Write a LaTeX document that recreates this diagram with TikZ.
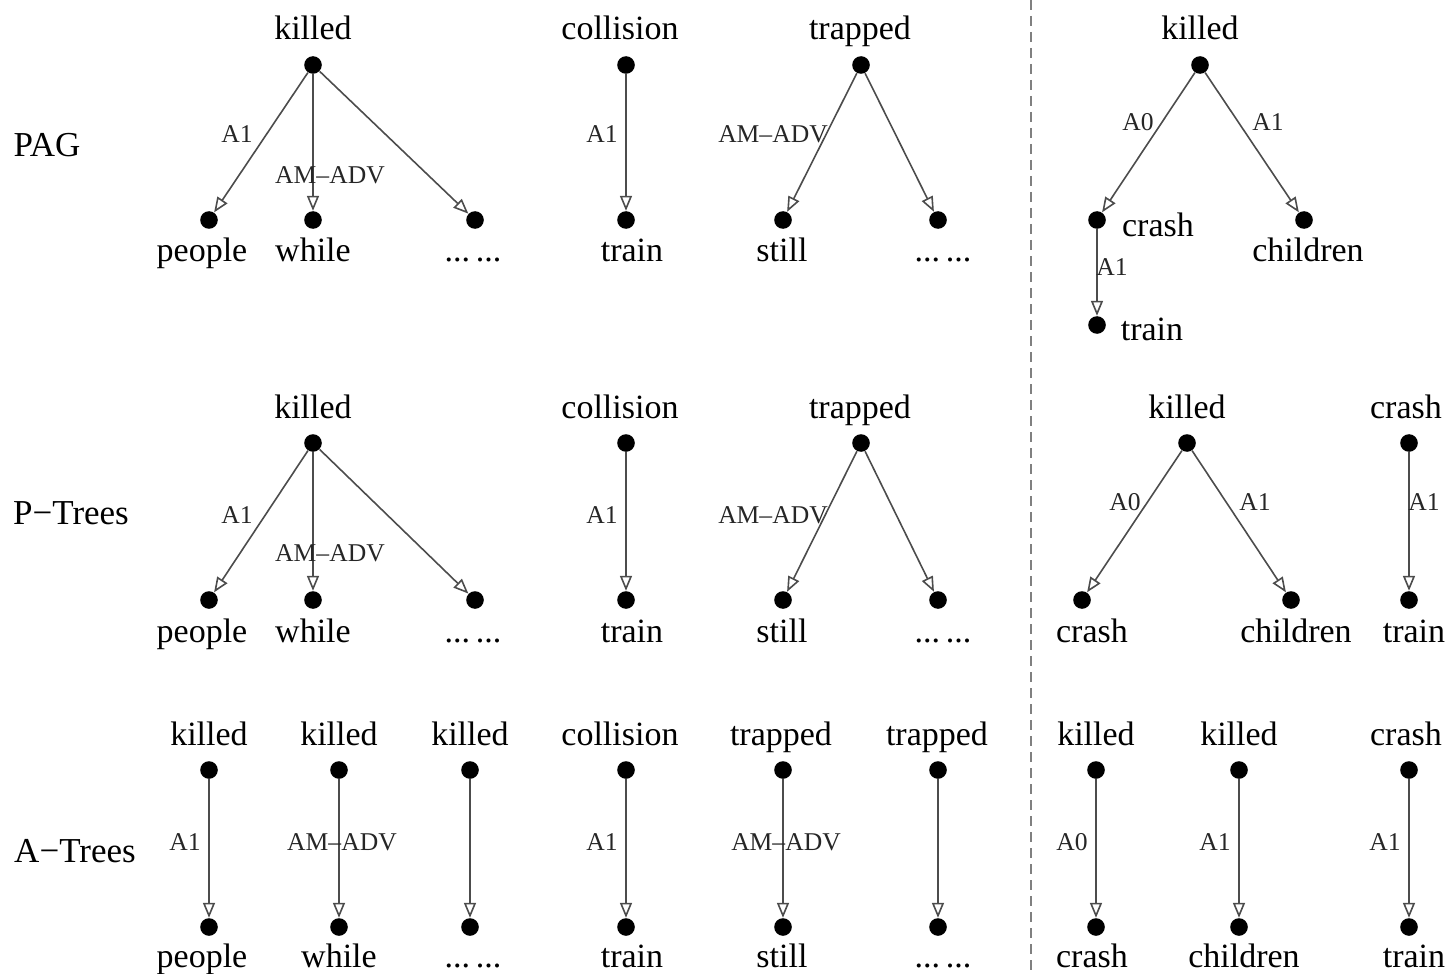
\documentclass[tikz,border=0pt]{standalone}
\usepackage{fontspec}
\setmainfont{Liberation Serif}
\usetikzlibrary{arrows.meta}
\tikzset{
  dot/.style={circle,fill=black,inner sep=0pt,minimum size=8.8pt},
  word/.style={anchor=base,inner sep=0pt,font=\fontsize{17}{20}\selectfont},
  rowtitle/.style={anchor=base,inner sep=0pt,font=\fontsize{17.5}{20}\selectfont},
  elab/.style={anchor=base,inner sep=0pt,font=\fontsize{12.8}{14}\selectfont,text=black!85},
  edge/.style={draw=black!70,line width=0.8pt,-{Triangle[open,length=7.5pt,width=6pt,fill=white]}},
}
\begin{document}
\begin{tikzpicture}[x=0.5pt,y=-0.5pt]
\useasboundingbox (0,0) rectangle (1447,974);
\draw[gray,dashed,line width=0.8pt,dash pattern=on 5pt off 3pt] (1031,0) -- (1031,974);

% row titles
\node[rowtitle] (tPAG) at (47,157) {PAG};
\node[rowtitle] (tPT) at (71,524) {P−Trees};
\node[rowtitle] (tAT) at (75,862) {A−Trees};

% ================= Row 1: PAG =================
\node[dot] (a1) at (313,65) {};
\node[word] (a1w) at (313,40) {killed};
\node[dot] (a2) at (209,220) {};
\node[word] (a2w) at (202,262) {people};
\node[dot] (a3) at (313,220) {};
\node[word] (a3w) at (313,262) {while};
\node[dot] (a4) at (475,220) {};
\node[word] (a4w) at (473,262) {...\,...};
\draw[edge] (a1) -- (a2);
\draw[edge] (a1) -- (a3);
\draw[edge] (a1) -- (a4);
\node[elab] (a12) at (237,143) {A1};
\node[elab] (a13) at (330,184) {AM–ADV};

\node[dot] (b1) at (626,65) {};
\node[word] (b1w) at (620,40) {collision};
\node[dot] (b2) at (626,220) {};
\node[word] (b2w) at (632,262) {train};
\draw[edge] (b1) -- (b2);
\node[elab] (b12) at (602,143) {A1};

\node[dot] (c1) at (861,65) {};
\node[word] (c1w) at (860,40) {trapped};
\node[dot] (c2) at (783,220) {};
\node[word] (c2w) at (782,262) {still};
\node[dot] (c3) at (938,220) {};
\node[word] (c3w) at (943,262) {...\,...};
\draw[edge] (c1) -- (c2);
\draw[edge] (c1) -- (c3);
\node[elab] (c12) at (773,143) {AM–ADV};

\node[dot] (d1) at (1200,65) {};
\node[word] (d1w) at (1200,40) {killed};
\node[dot] (d2) at (1097,220) {};
\node[word] (d2w) at (1158,236) {crash};
\node[dot] (d3) at (1304,220) {};
\node[word] (d3w) at (1308,262) {children};
\node[dot] (d4) at (1097,325) {};
\node[word] (d4w) at (1152,340) {train};
\draw[edge] (d1) -- (d2);
\draw[edge] (d1) -- (d3);
\draw[edge] (d2) -- (d4);
\node[elab] (d12) at (1138,131) {A0};
\node[elab] (d13) at (1268,131) {A1};
\node[elab] (d24) at (1112,275) {A1};

% ================= Row 2: P-Trees =================
\node[dot] (e1) at (313,443) {};
\node[word] (e1w) at (313,418) {killed};
\node[dot] (e2) at (209,600) {};
\node[word] (e2w) at (202,642) {people};
\node[dot] (e3) at (313,600) {};
\node[word] (e3w) at (313,642) {while};
\node[dot] (e4) at (475,600) {};
\node[word] (e4w) at (473,642) {...\,...};
\draw[edge] (e1) -- (e2);
\draw[edge] (e1) -- (e3);
\draw[edge] (e1) -- (e4);
\node[elab] (e12) at (237,523) {A1};
\node[elab] (e13) at (330,561) {AM–ADV};

\node[dot] (f1) at (626,443) {};
\node[word] (f1w) at (620,418) {collision};
\node[dot] (f2) at (626,600) {};
\node[word] (f2w) at (632,642) {train};
\draw[edge] (f1) -- (f2);
\node[elab] (f12) at (602,523) {A1};

\node[dot] (g1) at (861,443) {};
\node[word] (g1w) at (860,418) {trapped};
\node[dot] (g2) at (783,600) {};
\node[word] (g2w) at (782,642) {still};
\node[dot] (g3) at (938,600) {};
\node[word] (g3w) at (943,642) {...\,...};
\draw[edge] (g1) -- (g2);
\draw[edge] (g1) -- (g3);
\node[elab] (g12) at (773,523) {AM–ADV};

\node[dot] (h1) at (1187,443) {};
\node[word] (h1w) at (1187,418) {killed};
\node[dot] (h2) at (1082,600) {};
\node[word] (h2w) at (1092,642) {crash};
\node[dot] (h3) at (1291,600) {};
\node[word] (h3w) at (1296,642) {children};
\draw[edge] (h1) -- (h2);
\draw[edge] (h1) -- (h3);
\node[elab] (h12) at (1125,510) {A0};
\node[elab] (h13) at (1255,510) {A1};

\node[dot] (i1) at (1409,443) {};
\node[word] (i1w) at (1406,418) {crash};
\node[dot] (i2) at (1409,600) {};
\node[word] (i2w) at (1414,642) {train};
\draw[edge] (i1) -- (i2);
\node[elab] (i12) at (1424,510) {A1};

% ================= Row 3: A-Trees =================
\node[dot] (j1) at (209,770) {};
\node[word] (j1w) at (209,745) {killed};
\node[dot] (j2) at (209,927) {};
\node[word] (j2w) at (202,967) {people};
\draw[edge] (j1) -- (j2);
\node[elab] (j12) at (185,850) {A1};

\node[dot] (k1) at (339,770) {};
\node[word] (k1w) at (339,745) {killed};
\node[dot] (k2) at (339,927) {};
\node[word] (k2w) at (339,967) {while};
\draw[edge] (k1) -- (k2);
\node[elab] (k12) at (342,850) {AM–ADV};

\node[dot] (l1) at (470,770) {};
\node[word] (l1w) at (470,745) {killed};
\node[dot] (l2) at (470,927) {};
\node[word] (l2w) at (473,967) {...\,...};
\draw[edge] (l1) -- (l2);

\node[dot] (m1) at (626,770) {};
\node[word] (m1w) at (620,745) {collision};
\node[dot] (m2) at (626,927) {};
\node[word] (m2w) at (632,967) {train};
\draw[edge] (m1) -- (m2);
\node[elab] (m12) at (602,850) {A1};

\node[dot] (n1) at (783,770) {};
\node[word] (n1w) at (781,745) {trapped};
\node[dot] (n2) at (783,927) {};
\node[word] (n2w) at (782,967) {still};
\draw[edge] (n1) -- (n2);
\node[elab] (n12) at (786,850) {AM–ADV};

\node[dot] (o1) at (938,770) {};
\node[word] (o1w) at (937,745) {trapped};
\node[dot] (o2) at (938,927) {};
\node[word] (o2w) at (943,967) {...\,...};
\draw[edge] (o1) -- (o2);

\node[dot] (p1) at (1096,770) {};
\node[word] (p1w) at (1096,745) {killed};
\node[dot] (p2) at (1096,927) {};
\node[word] (p2w) at (1092,967) {crash};
\draw[edge] (p1) -- (p2);
\node[elab] (p12) at (1072,850) {A0};

\node[dot] (q1) at (1239,770) {};
\node[word] (q1w) at (1239,745) {killed};
\node[dot] (q2) at (1239,927) {};
\node[word] (q2w) at (1244,967) {children};
\draw[edge] (q1) -- (q2);
\node[elab] (q12) at (1215,850) {A1};

\node[dot] (r1) at (1409,770) {};
\node[word] (r1w) at (1406,745) {crash};
\node[dot] (r2) at (1409,927) {};
\node[word] (r2w) at (1414,967) {train};
\draw[edge] (r1) -- (r2);
\node[elab] (r12) at (1385,850) {A1};
\end{tikzpicture}
\end{document}
